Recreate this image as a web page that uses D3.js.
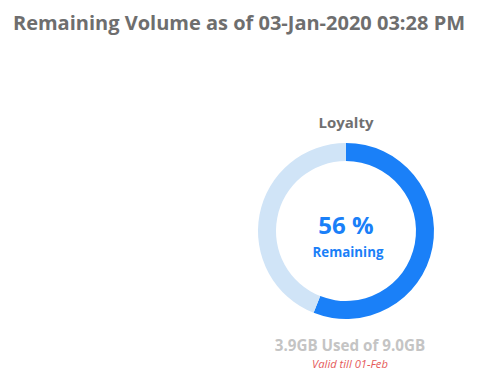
<!DOCTYPE html>
<html><head><meta charset="utf-8">
<script src="https://cdn.jsdelivr.net/npm/d3@7"></script>
<style>html,body{margin:0;padding:0;background:#fff;}svg{display:block;font-family:"Open Sans",sans-serif;}</style>
</head><body>
<svg id="chart" width="482" height="384"></svg>
<script>
const titleText = "Remaining Volume as of 03-Jan-2020 03:28 PM";
const planName = "Loyalty";
const categories = ["Remaining", "Used"];
const values = [56, 44];
const usedGB = 3.9;
const totalGB = 9.0;
const validText = "Valid till 01-Feb";
const colors = ["#1a80f8", "#d0e4f7"];

const svg = d3.select("#chart");
svg.append("text").attr("x", 239).attr("y", 30).attr("text-anchor", "middle")
  .attr("font-size", 20).attr("font-weight", 700).attr("fill", "#6e6e6e").text(titleText);

const cx = 346, cy = 231, outerR = 88, innerR = 70;
const g = svg.append("g").attr("transform", `translate(${cx},${cy})`);
const pie = d3.pie().sort(null).value(d => d.v);
const arc = d3.arc().innerRadius(innerR).outerRadius(outerR);
g.selectAll("path").data(pie(categories.map((c, i) => ({c, v: values[i]}))))
  .join("path").attr("d", arc).attr("fill", (d, i) => colors[i]);

svg.append("text").attr("x", cx).attr("y", 128).attr("text-anchor", "middle")
  .attr("font-size", 15).attr("font-weight", 700).attr("fill", "#707070").text(planName);
g.append("text").attr("x", 0).attr("y", 3).attr("text-anchor", "middle")
  .attr("font-size", 24).attr("font-weight", 700).attr("fill", colors[0]).text(values[0] + " %");
g.append("text").attr("x", 2).attr("y", 26).attr("text-anchor", "middle")
  .attr("font-size", 13.3).attr("font-weight", 700).attr("fill", colors[0]).text(categories[0]);

svg.append("text").attr("x", 350).attr("y", 351).attr("text-anchor", "middle")
  .attr("font-size", 15.2).attr("font-weight", 700).attr("fill", "#c4c4c4")
  .text(`${usedGB.toFixed(1)}GB Used of ${totalGB.toFixed(1)}GB`);
svg.append("text").attr("x", 350).attr("y", 368).attr("text-anchor", "middle")
  .attr("font-size", 11.2).attr("font-style", "italic").attr("fill", "#e55a5a").text(validText);
</script>
</body></html>
